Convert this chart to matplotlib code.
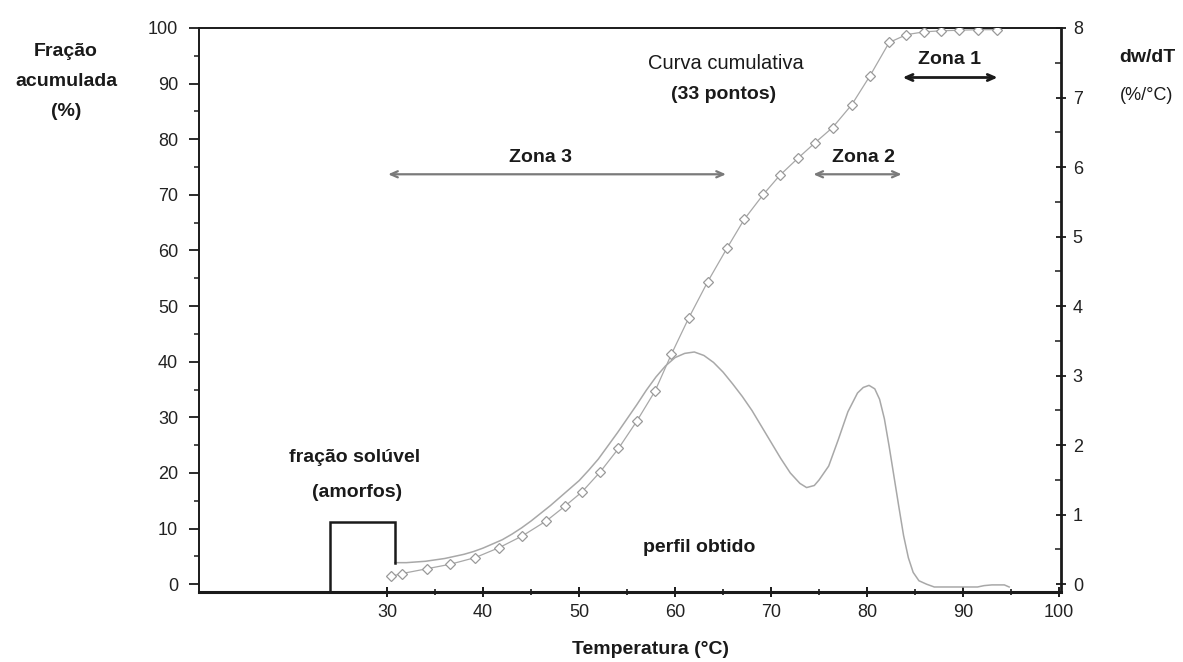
import matplotlib
matplotlib.use("Agg")
import matplotlib.pyplot as plt
from matplotlib.ticker import FixedLocator

plt.rcParams['font.family'] = ['Liberation Sans', 'DejaVu Sans']

# Cumulative fraction curve (33 points), left axis (%)
cum_temp = [30.4, 31.5, 34.2, 36.6, 39.2, 41.7, 44.1, 46.6, 48.5, 50.3,
            52.2, 54.1, 56.0, 57.9, 59.6, 61.4, 63.4, 65.4, 67.2, 69.2,
            70.9, 72.8, 74.6, 76.4, 78.4, 80.3, 82.3, 84.1, 85.9, 87.7,
            89.6, 91.6, 93.5]
cum_frac = [1.4, 1.9, 2.8, 3.6, 4.8, 6.6, 8.7, 11.4, 14.0, 16.6,
            20.2, 24.4, 29.3, 34.7, 41.3, 47.8, 54.4, 60.4, 65.6, 70.1,
            73.5, 76.6, 79.4, 82.1, 86.2, 91.4, 97.4, 98.8, 99.3, 99.5,
            99.6, 99.7, 99.7]

# Obtained profile dw/dT, right axis (%/°C)
prof_temp = [30.8, 32, 33, 34, 35, 36, 37, 38, 39, 40,
             41, 42, 43, 44, 45, 46, 47, 48, 49, 50,
             51, 52, 53, 54, 55, 56, 57, 58, 59, 60,
             61, 62, 63, 64, 65, 66, 67, 68, 69, 70,
             71, 72, 73, 73.7, 74.5, 75, 76, 77, 78, 79,
             79.6, 80.2, 80.8, 81.3, 81.8, 82.3, 82.8, 83.3, 83.8, 84.3,
             84.8, 85.4, 86.2, 87, 90, 91.5, 92.2, 93, 94.3, 94.8]
prof_dwdt = [0.31, 0.31, 0.32, 0.33, 0.35, 0.37, 0.40, 0.43, 0.47, 0.52,
             0.58, 0.64, 0.72, 0.81, 0.91, 1.02, 1.13, 1.25, 1.37, 1.49,
             1.64, 1.80, 1.99, 2.18, 2.38, 2.58, 2.79, 2.98, 3.14, 3.26,
             3.32, 3.34, 3.29, 3.19, 3.05, 2.88, 2.70, 2.50, 2.27, 2.04,
             1.81, 1.60, 1.45, 1.39, 1.42, 1.50, 1.70, 2.08, 2.48, 2.75,
             2.83, 2.86, 2.81, 2.66, 2.38, 1.98, 1.55, 1.12, 0.70, 0.38,
             0.17, 0.05, 0.00, -0.04, -0.04, -0.04, -0.02, -0.01, -0.01, -0.04]

# Soluble (amorphous) fraction block
sol_temp = [24.0, 24.0, 30.8, 30.8]
sol_dwdt = [-0.112, 0.90, 0.90, 0.31]

# Axis ticks
x_major = [30, 40, 50, 60, 70, 80, 90, 100]
x_minor = [35, 45, 55, 65, 75, 85, 95]
left_major = list(range(0, 101, 10))
left_minor = list(range(5, 100, 10))
right_major = list(range(0, 9))
right_minor = [0.5 + i for i in range(8)]

W, H = 1183, 662
fig = plt.figure(figsize=(W / 100, H / 100), dpi=100)
fig.patch.set_facecolor('white')

x0, x1, ytop, ybot = 199, 1061, 28, 592
ax = fig.add_axes([x0 / W, 1 - ybot / H, (x1 - x0) / W, (ybot - ytop) / H])
ax2 = ax.twinx()

ax.set_xlim(10.4, 100.2)
ax.set_ylim(-1.4, 100)
ax2.set_ylim(-0.112, 8)

ink = '#1a1a1a'
curve_col = '#a8a8a8'

# cumulative curve
ax.plot(cum_temp, cum_frac, color=curve_col, lw=0.9, marker='D', ms=4.6,
        mfc='white', mec='#999999', mew=0.9, zorder=3)

# dw/dT profile
ax2.plot(prof_temp, prof_dwdt, color=curve_col, lw=1.1, zorder=3)
ax2.plot(sol_temp, sol_dwdt, color=ink, lw=1.8, zorder=4,
         solid_joinstyle='miter', clip_on=False)

# spines
for name, lw in [('left', 1.4), ('top', 1.4), ('bottom', 2.2), ('right', 0)]:
    ax.spines[name].set_linewidth(lw)
    ax.spines[name].set_color(ink)
ax.spines['right'].set_visible(False)
for name in ['left', 'top', 'bottom']:
    ax2.spines[name].set_visible(False)
ax2.spines['right'].set_linewidth(2.0)
ax2.spines['right'].set_color(ink)

# x ticks
ax.xaxis.set_major_locator(FixedLocator(x_major))
ax.xaxis.set_minor_locator(FixedLocator(x_minor))
ax.tick_params(axis='x', which='major', direction='inout', length=7,
               width=1.4, color=ink, labelsize=13, labelcolor='#222222', pad=5)
ax.tick_params(axis='x', which='minor', direction='inout', length=5,
               width=1.2, color=ink)

# left ticks
ax.yaxis.set_major_locator(FixedLocator(left_major))
ax.yaxis.set_minor_locator(FixedLocator(left_minor))
ax.tick_params(axis='y', which='major', direction='out', length=7,
               width=1.3, color=ink, labelsize=13, labelcolor='#222222', pad=8)
ax.tick_params(axis='y', which='minor', direction='out', length=3.5,
               width=1.1, color=ink)

# right ticks
ax2.yaxis.set_major_locator(FixedLocator(right_major))
ax2.yaxis.set_minor_locator(FixedLocator(right_minor))
ax2.tick_params(axis='y', which='major', direction='inout', length=7,
                width=1.3, color=ink, labelsize=13, labelcolor='#222222', pad=5)
ax2.tick_params(axis='y', which='minor', direction='in', length=4,
                width=1.1, color=ink)

bold = dict(fontsize=14, fontweight='bold', color=ink, ha='center', va='center')

# zone arrows
def zone_arrow(xa, xb, y, color, lw):
    ax.annotate('', xy=(xb, y), xytext=(xa, y),
                arrowprops=dict(arrowstyle='<->,head_length=0.5,head_width=0.22',
                                color=color, lw=lw, shrinkA=0, shrinkB=0))

zone_arrow(30.1, 65.3, 73.7, '#7a7a7a', 1.6)
zone_arrow(74.4, 83.6, 73.7, '#7a7a7a', 1.6)
zone_arrow(83.7, 93.6, 91.1, ink, 2.0)

ax.text(46.0, 76.8, 'Zona 3', **bold)
ax.text(79.6, 76.8, 'Zona 2', **bold)
ax.text(88.6, 94.4, 'Zona 1', **bold)

ax.text(65.3, 93.7, 'Curva cumulativa', fontsize=14.5, color=ink,
        ha='center', va='center')
ax.text(65.0, 88.0, '(33 pontos)', **bold)

ax.text(26.6, 22.8, 'fração solúvel', **bold)
ax.text(26.9, 16.5, '(amorfos)', **bold)
ax.text(62.5, 6.6, 'perfil obtido', **bold)

# outer labels
def ftext(px, py, s, **kw):
    fig.text(px / W, 1 - py / H, s, **kw)

ftext(66, 51, 'Fração', **bold)
ftext(66, 81, 'acumulada', **bold)
ftext(66, 111, '(%)', **bold)
ftext(1147, 58, 'dw/dT', **bold)
ftext(1147, 95, '(%/°C)', fontsize=13, color=ink, ha='center', va='center')
ftext(650, 649, 'Temperatura (°C)', **bold)

fig.savefig('out.png', dpi=100, facecolor='white')
